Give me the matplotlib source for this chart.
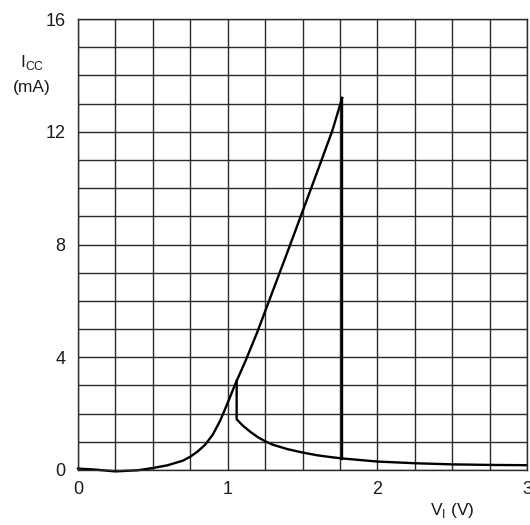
import matplotlib
matplotlib.use("Agg")
import matplotlib.pyplot as plt
from matplotlib.ticker import MultipleLocator

# ---- data ----
rise_v = [0.0, 0.1, 0.25, 0.4, 0.5, 0.6, 0.7, 0.75, 0.8, 0.85, 0.9, 0.95,
          1.0, 1.047, 1.06, 1.12, 1.2, 1.3, 1.4, 1.5, 1.6, 1.7, 1.765]
rise_i = [0.05, 0.02, -0.05, -0.01, 0.07, 0.17, 0.33, 0.47, 0.66, 0.9, 1.25,
          1.75, 2.38, 3.0, 3.16, 3.88, 4.92, 6.33, 7.74, 9.17, 10.6, 12.05, 13.2]
drop_v = [1.765, 1.765]
drop_i = [13.2, 0.4]
low_v = [1.06, 1.06, 1.1, 1.15, 1.2, 1.25, 1.3, 1.4, 1.5, 1.6, 1.7, 1.765,
         2.0, 2.25, 2.5, 2.75, 3.0]
low_i = [3.16, 1.8, 1.58, 1.36, 1.17, 1.02, 0.9, 0.74, 0.62, 0.52, 0.45, 0.41,
         0.3, 0.24, 0.2, 0.18, 0.17]

x_ticks = [0, 1, 2, 3]
y_ticks = [0, 4, 8, 12, 16]

plt.rcParams['font.family'] = ['Liberation Sans', 'DejaVu Sans']
txt = '#1a1a1a'

W, H = 530, 525
fig = plt.figure(figsize=(W / 100, H / 100), dpi=100)
ax = fig.add_axes([78 / W, (H - 470) / H, (527 - 78) / W, (470 - 19) / H])

ax.set_xlim(0, 3)
ax.set_ylim(0, 16)
ax.xaxis.set_major_locator(plt.FixedLocator(x_ticks))
ax.yaxis.set_major_locator(plt.FixedLocator(y_ticks))
ax.xaxis.set_minor_locator(MultipleLocator(0.25))
ax.yaxis.set_minor_locator(MultipleLocator(1))
ax.grid(True, which='both', color='#2a2a2a', linewidth=1.0)
ax.set_axisbelow(True)
for s in ax.spines.values():
    s.set_color('#2a2a2a')
    s.set_linewidth(1.0)
ax.tick_params(which='both', length=0, labelsize=13, labelcolor=txt)
ax.tick_params(axis='x', pad=8)
ax.tick_params(axis='y', pad=9)

lw = 1.7
ax.plot(rise_v, rise_i, color='black', lw=lw, clip_on=False, solid_joinstyle='round')
ax.plot(drop_v, drop_i, color='black', lw=lw, solid_joinstyle='round')
ax.plot(low_v, low_i, color='black', lw=lw, solid_joinstyle='round')

fig.text(32 / W, 1 - 63 / H, r'I$_{\mathregular{CC}}$', ha='center', va='center',
         fontsize=12.5, color=txt)
fig.text(32 / W, 1 - 88 / H, '(mA)', ha='center', va='center', fontsize=12.5, color=txt)
fig.text(452 / W, 1 - 510 / H, r'V$_{\mathregular{I}}$ (V)', ha='center', va='center',
         fontsize=12.5, color=txt)

fig.savefig('out.png', dpi=100)
